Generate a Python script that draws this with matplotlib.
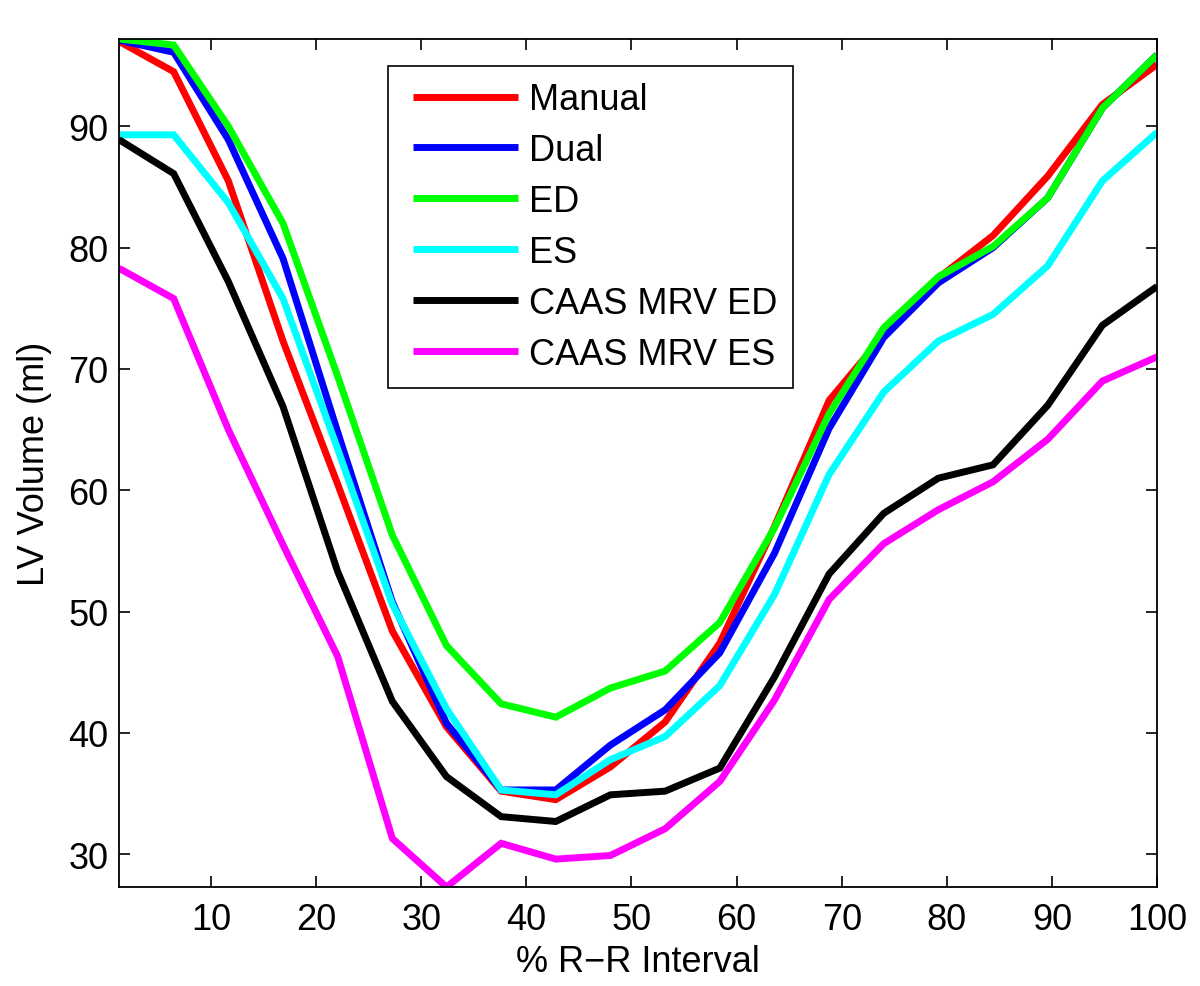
"""LV volume over the R-R interval, six segmentation methods."""

import matplotlib
matplotlib.use("Agg")
import matplotlib.pyplot as plt  # noqa: E402
from matplotlib.lines import Line2D  # noqa: E402
from matplotlib.legend_handler import HandlerLine2D  # noqa: E402

plt.rcParams["font.family"] = ["Liberation Sans", "DejaVu Sans"]

# % of R-R interval for each frame
rr_pct = [1.25, 6.45, 11.65, 16.85, 22.05, 27.25, 32.4, 37.6, 42.8, 48.0,
          53.2, 58.4, 63.6, 68.8, 74.0, 79.2, 84.4, 89.6, 94.8, 100.0]

manual = [97.0, 94.5, 85.5, 72.3, 60.5, 48.4, 40.5, 35.2, 34.5, 37.2,
          40.9, 47.4, 57.0, 67.4, 72.8, 77.5, 81.0, 85.9, 91.8, 95.1]
dual = [97.1, 96.1, 88.9, 79.1, 64.8, 50.8, 40.8, 35.3, 35.3, 39.0,
        41.9, 46.6, 54.8, 65.1, 72.6, 77.1, 80.0, 84.1, 91.5, 95.9]
ed = [97.2, 96.7, 90.0, 82.0, 69.4, 56.3, 47.2, 42.4, 41.3, 43.7,
      45.1, 49.1, 56.9, 66.3, 73.4, 77.6, 80.1, 84.1, 91.5, 95.9]
es = [89.3, 89.3, 83.7, 75.8, 63.4, 50.6, 42.0, 35.3, 34.9, 37.8,
      39.7, 43.9, 51.4, 61.3, 68.1, 72.3, 74.5, 78.5, 85.5, 89.5]
caas_ed = [88.9, 86.1, 77.2, 66.9, 53.3, 42.6, 36.4, 33.1, 32.7, 34.9,
           35.2, 37.1, 44.6, 53.1, 58.1, 61.0, 62.1, 67.0, 73.6, 76.8]
caas_es = [78.3, 75.8, 65.0, 55.5, 46.3, 31.3, 27.3, 30.9, 29.6, 29.9,
           32.1, 36.0, 42.7, 51.0, 55.6, 58.4, 60.7, 64.2, 69.0, 71.0]

labels = ["Manual", "Dual", "ED", "ES", "CAAS MRV ED", "CAAS MRV ES"]
colors = ["#ff0000", "#0000ff", "#00ff00", "#00ffff", "#000000", "#ff00ff"]
series = [manual, dual, ed, es, caas_ed, caas_es]

FS = 26
INSET = 6  # px of blank before each legend line (matlab leaves more room)


class _InsetLine(HandlerLine2D):
    # push the legend sample right so the side padding is wider than the
    # top/bottom padding, the way matlab draws its legend box
    def create_artists(self, legend, orig_handle, xdescent, ydescent,
                       width, height, fontsize, trans):
        return super().create_artists(legend, orig_handle, xdescent - INSET,
                                      ydescent, width - INSET, height,
                                      fontsize, trans)


fig = plt.figure(figsize=(12.0, 9.87), dpi=100)
ax = fig.add_axes([0.0992, 0.1003, 0.8650, 0.8592])

for vals, lab, col in zip(series, labels, colors):
    ax.plot(rr_pct, vals, color=col, lw=5, label=lab,
            solid_joinstyle="miter", solid_capstyle="butt")

# tight axes, as matlab's "axis tight"
allv = [v for s in series for v in s]
ax.set_xlim(min(rr_pct), max(rr_pct))
ax.set_ylim(min(allv), max(allv))

ax.set_xticks(range(10, 101, 10))
ax.set_yticks(range(30, 91, 10))
ax.tick_params(direction="in", length=8, width=1.2, top=True, right=True,
               labelsize=FS)
ax.tick_params(axis="x", pad=11)
ax.tick_params(axis="y", pad=7.5)
for sp in ax.spines.values():
    sp.set_linewidth(1.3)

ax.set_xlabel("% R\u2212R Interval", fontsize=FS, labelpad=5)
ax.set_ylabel("LV Volume (ml)", fontsize=FS, labelpad=12)

leg = ax.legend(loc="upper left", bbox_to_anchor=(0.2594, 0.9678),
                borderaxespad=0, fontsize=FS, fancybox=False,
                edgecolor="black", framealpha=1,
                handlelength=(108 + INSET) / (FS * 100 / 72),
                handletextpad=0.3, labelspacing=0.44, borderpad=0.44,
                handler_map={Line2D: _InsetLine()})
leg.get_frame().set_linewidth(1.2)

fig.savefig("out.png", dpi=100)
